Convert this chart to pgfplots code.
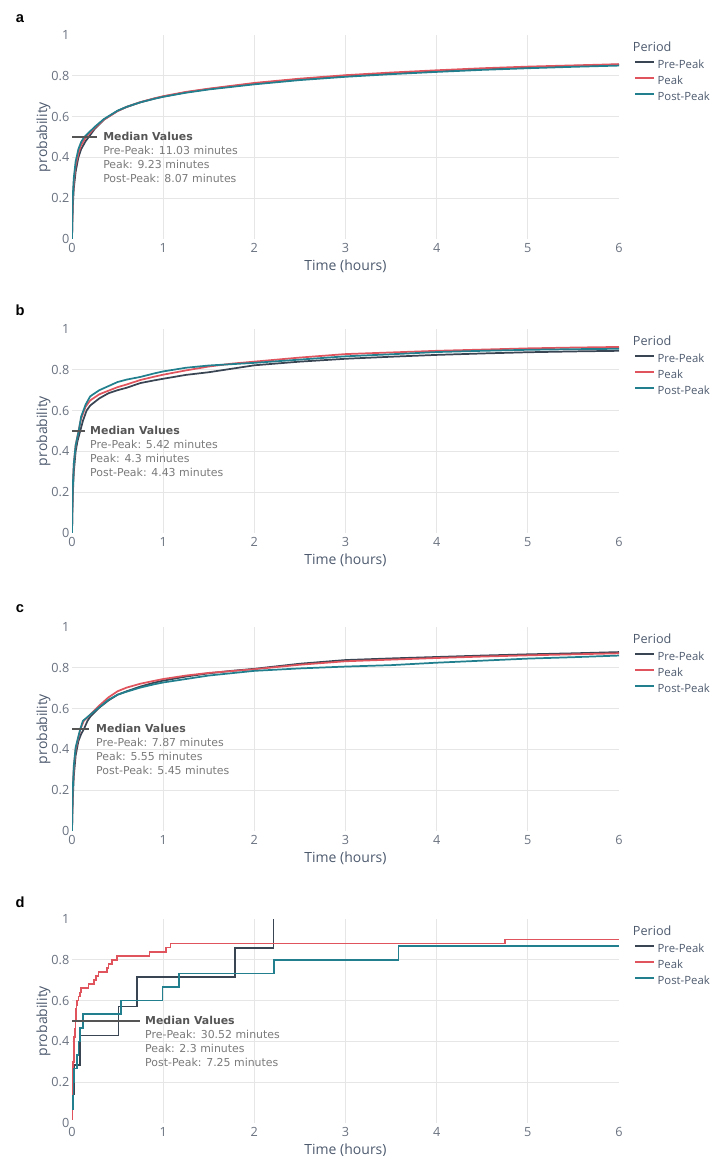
\documentclass[border=0pt]{standalone}
\usepackage{pgfplots}
\pgfplotsset{compat=1.18}
\usepackage{fontspec}
\setmainfont{Open Sans}
\newfontfamily\annfont{DejaVu Sans}
\newfontfamily\letterfont{Liberation Sans}
\definecolor{preC}{HTML}{3A4554}
\definecolor{peakC}{HTML}{E0545E}
\definecolor{postC}{HTML}{22808E}
\definecolor{gridC}{HTML}{E6E6E6}
\definecolor{tickC}{HTML}{6A7280}
\definecolor{labC}{HTML}{4D5A6E}
\definecolor{annA}{HTML}{555555}
\definecolor{annB}{HTML}{7A7A7A}
\pgfplotsset{
  panel/.style={
    scale only axis, width=410.25pt, height=153pt,
    xmin=0, xmax=6, ymin=0, ymax=1,
    clip mode=individual,
    axis line style={draw=none}, major tick length=0pt,
    xtick={0,1,2,3,4,5,6}, xticklabels={0,1,2,3,4,5,6},
    ytick={0,0.2,0.4,0.6,0.8,1}, yticklabels={0,0.2,0.4,0.6,0.8,1},
    extra x ticks={1,2,3,4,5}, extra x tick labels={},
    extra y ticks={0.2,0.4,0.6,0.8}, extra y tick labels={},
    extra x tick style={grid=major}, extra y tick style={grid=major},
    major grid style={draw=gridC, line width=0.75pt},
    tick label style={font=\fontsize{9.5}{10}\selectfont, text=tickC},
    yticklabel style={xshift=1.5pt},
    xlabel={Time (hours)}, ylabel={probability},
    label style={font=\fontsize{10.5}{12}\selectfont, text=labC},
    xlabel style={at={(axis description cs:0.5,-0.132)}, anchor=center},
    ylabel style={at={(axis description cs:-0.052,0.5)}, anchor=center},
    legend style={draw=none, fill=none, at={(axis description cs:1.0274,0.902)}, anchor=north west,
      inner xsep=0pt, inner ysep=2pt,
      font=\fontsize{8.5}{10}\selectfont, text=labC, row sep=0pt,
      nodes={inner ysep=0pt, inner xsep=2pt, text height=8pt, text depth=4pt}},
    legend cell align=left,
    legend image code/.code={\draw[#1, line width=1.3pt] (0pt,2.8pt) -- (14.25pt,2.8pt);},
    every axis plot/.append style={line width=1.3pt},
  }
}
\newcommand{\periodtitle}{\node[anchor=west, font=\fontsize{9.5}{11}\selectfont, text=labC, inner sep=0pt] at (axis description cs:1.025,0.943) {Period};}
\newcommand{\medianann}[5]{%
  \draw[color=annA, line width=0.9pt] (axis cs:0,0.5) -- (axis cs:#1,0.5);
  \node[anchor=mid west, inner sep=0pt, font=\annfont\bfseries\fontsize{8.2}{10}\selectfont, text=annA] at (axis cs:#2,0.5) {Median Values};
  \node[anchor=mid west, inner sep=0pt, font=\annfont\fontsize{8.2}{10}\selectfont, text=annB] at (axis cs:#2,0.4314) {Pre-Peak: #3 minutes};
  \node[anchor=mid west, inner sep=0pt, font=\annfont\fontsize{8.2}{10}\selectfont, text=annB] at (axis cs:#2,0.3628) {Peak: #4 minutes};
  \node[anchor=mid west, inner sep=0pt, font=\annfont\fontsize{8.2}{10}\selectfont, text=annB] at (axis cs:#2,0.2942) {Post-Peak: #5 minutes};
}
\begin{document}
\begin{tikzpicture}
\useasboundingbox (0,0) rectangle (534.75pt,867pt);
\node[font=\letterfont\bfseries\fontsize{11}{13}\selectfont] at (15pt,853pt) {a};
\node[font=\letterfont\bfseries\fontsize{11}{13}\selectfont] at (15pt,634pt) {b};
\node[font=\letterfont\bfseries\fontsize{11}{13}\selectfont] at (15pt,410.5pt) {c};
\node[font=\letterfont\bfseries\fontsize{11}{13}\selectfont] at (15pt,190.5pt) {d};

% ---------- a ----------
\begin{axis}[panel, at={(54pt,687.75pt)}, anchor=south west]
\addplot[color=preC] coordinates {(0,0) (0.005,0.10) (0.01,0.17) (0.02,0.25) (0.04,0.33) (0.07,0.40) (0.1,0.44) (0.15,0.48) (0.184,0.50) (0.25,0.54) (0.35,0.585) (0.5,0.628) (0.6,0.647) (0.75,0.670) (0.9,0.688) (1.0,0.698) (1.25,0.719) (1.5,0.735) (2.0,0.762) (2.5,0.783) (3.0,0.80) (3.5,0.812) (4.0,0.823) (4.5,0.833) (5.0,0.841) (5.5,0.848) (6.0,0.855)};
\addlegendentry{Pre-Peak}
\addplot[color=peakC] coordinates {(0,0) (0.005,0.12) (0.01,0.20) (0.02,0.28) (0.04,0.36) (0.07,0.42) (0.1,0.46) (0.154,0.50) (0.25,0.545) (0.35,0.585) (0.5,0.627) (0.6,0.648) (0.75,0.671) (0.9,0.689) (1.0,0.70) (1.25,0.721) (1.5,0.737) (2.0,0.765) (2.5,0.786) (3.0,0.803) (3.5,0.816) (4.0,0.827) (4.5,0.837) (5.0,0.845) (5.5,0.851) (6.0,0.857)};
\addlegendentry{Peak}
\addplot[color=postC] coordinates {(0,0) (0.005,0.14) (0.01,0.22) (0.02,0.30) (0.04,0.38) (0.07,0.44) (0.1,0.475) (0.1345,0.50) (0.25,0.55) (0.35,0.588) (0.5,0.629) (0.6,0.648) (0.75,0.670) (0.9,0.687) (1.0,0.697) (1.25,0.717) (1.5,0.733) (2.0,0.758) (2.5,0.779) (3.0,0.795) (3.5,0.808) (4.0,0.819) (4.5,0.829) (5.0,0.837) (5.5,0.844) (6.0,0.85)};
\addlegendentry{Post-Peak}
\periodtitle
\medianann{0.274}{0.34}{11.03}{9.23}{8.07}
\end{axis}

% ---------- b ----------
\begin{axis}[panel, at={(54pt,467.25pt)}, anchor=south west]
\addplot[color=preC] coordinates {(0,0) (0.005,0.12) (0.01,0.2) (0.02,0.3) (0.04,0.4) (0.06,0.45) (0.09,0.5) (0.12,0.55) (0.16,0.6) (0.2,0.625) (0.3,0.66) (0.4,0.685) (0.5,0.70) (0.6,0.712) (0.75,0.735) (0.9,0.748) (1.0,0.756) (1.25,0.775) (1.5,0.788) (1.75,0.805) (2.0,0.822) (2.5,0.84) (3.0,0.854) (3.5,0.864) (4.0,0.873) (4.5,0.88) (5.0,0.886) (5.5,0.89) (6.0,0.893)};
\addlegendentry{Pre-Peak}
\addplot[color=peakC] coordinates {(0,0) (0.005,0.15) (0.01,0.24) (0.02,0.34) (0.04,0.43) (0.0717,0.5) (0.1,0.56) (0.15,0.62) (0.2,0.65) (0.3,0.68) (0.5,0.715) (0.6,0.728) (0.75,0.75) (0.9,0.766) (1.0,0.776) (1.25,0.797) (1.5,0.816) (1.75,0.83) (2.0,0.84) (2.5,0.86) (3.0,0.877) (3.5,0.885) (4.0,0.893) (4.5,0.899) (5.0,0.905) (5.5,0.909) (6.0,0.912)};
\addlegendentry{Peak}
\addplot[color=postC] coordinates {(0,0) (0.005,0.15) (0.01,0.24) (0.02,0.34) (0.04,0.43) (0.0738,0.5) (0.1,0.57) (0.15,0.63) (0.2,0.67) (0.3,0.70) (0.5,0.74) (0.6,0.752) (0.75,0.765) (0.9,0.782) (1.0,0.792) (1.25,0.81) (1.5,0.821) (2.0,0.834) (2.5,0.85) (3.0,0.866) (3.5,0.876) (4.0,0.887) (4.5,0.893) (5.0,0.898) (5.5,0.901) (6.0,0.903)};
\addlegendentry{Post-Peak}
\periodtitle
\medianann{0.143}{0.197}{5.42}{4.3}{4.43}
\end{axis}

% ---------- c ----------
\begin{axis}[panel, at={(54pt,243.75pt)}, anchor=south west]
\addplot[color=preC] coordinates {(0,0) (0.005,0.1) (0.01,0.17) (0.02,0.27) (0.04,0.37) (0.07,0.44) (0.1,0.475) (0.131,0.5) (0.17,0.54) (0.2,0.56) (0.3,0.605) (0.4,0.64) (0.5,0.668) (0.6,0.685) (0.75,0.708) (0.9,0.727) (1.0,0.737) (1.25,0.757) (1.5,0.773) (1.75,0.785) (2.0,0.795) (2.5,0.82) (3.0,0.838) (3.5,0.846) (4.0,0.853) (4.5,0.86) (5.0,0.866) (5.5,0.871) (6.0,0.877)};
\addlegendentry{Pre-Peak}
\addplot[color=peakC] coordinates {(0,0) (0.005,0.13) (0.01,0.21) (0.02,0.31) (0.04,0.4) (0.0925,0.5) (0.13,0.54) (0.2,0.57) (0.3,0.615) (0.4,0.655) (0.5,0.685) (0.6,0.703) (0.75,0.722) (0.9,0.736) (1.0,0.745) (1.25,0.762) (1.5,0.775) (2.0,0.793) (2.5,0.815) (3.0,0.832) (3.5,0.84) (4.0,0.848) (4.5,0.855) (5.0,0.861) (5.5,0.866) (6.0,0.871)};
\addlegendentry{Peak}
\addplot[color=postC] coordinates {(0,0) (0.005,0.14) (0.01,0.22) (0.02,0.32) (0.04,0.41) (0.0908,0.5) (0.12,0.54) (0.2,0.57) (0.3,0.607) (0.4,0.643) (0.5,0.668) (0.6,0.683) (0.75,0.703) (0.9,0.719) (1.0,0.728) (1.25,0.745) (1.5,0.762) (2.0,0.785) (2.5,0.797) (3.0,0.806) (3.5,0.813) (4.0,0.825) (4.5,0.835) (5.0,0.845) (5.5,0.852) (6.0,0.86)};
\addlegendentry{Post-Peak}
\periodtitle
\medianann{0.186}{0.263}{7.87}{5.55}{5.45}
\end{axis}

% ---------- d ----------
\begin{axis}[panel, at={(54pt,24.75pt)}, anchor=south west]
\addplot[color=preC, const plot mark left] coordinates {(0.01,0.143) (0.02,0.286) (0.085,0.429) (0.51,0.571) (0.71,0.714) (1.79,0.857) (2.21,1.0)};
\addlegendentry{Pre-Peak}
\addplot[color=peakC, const plot mark left] coordinates {(0,0.02) (0.004,0.06) (0.006,0.12) (0.008,0.18) (0.01,0.24) (0.014,0.3) (0.018,0.36) (0.022,0.42) (0.03,0.46) (0.038,0.5) (0.042,0.54) (0.046,0.56) (0.05,0.58) (0.055,0.6) (0.07,0.62) (0.085,0.64) (0.1,0.66) (0.18,0.68) (0.245,0.70) (0.26,0.72) (0.29,0.74) (0.385,0.76) (0.40,0.78) (0.435,0.80) (0.49,0.82) (0.85,0.84) (1.03,0.86) (1.08,0.88) (4.75,0.90) (6,0.90)};
\addlegendentry{Peak}
\addplot[color=postC, const plot mark left] coordinates {(0,0.067) (0.008,0.133) (0.015,0.2) (0.025,0.267) (0.055,0.333) (0.07,0.4) (0.085,0.467) (0.121,0.533) (0.537,0.6) (0.994,0.667) (1.177,0.733) (2.218,0.8) (3.58,0.867) (6,0.867)};
\addlegendentry{Post-Peak}
\periodtitle
\medianann{0.746}{0.80}{30.52}{2.3}{7.25}
\end{axis}
\end{tikzpicture}
\end{document}
